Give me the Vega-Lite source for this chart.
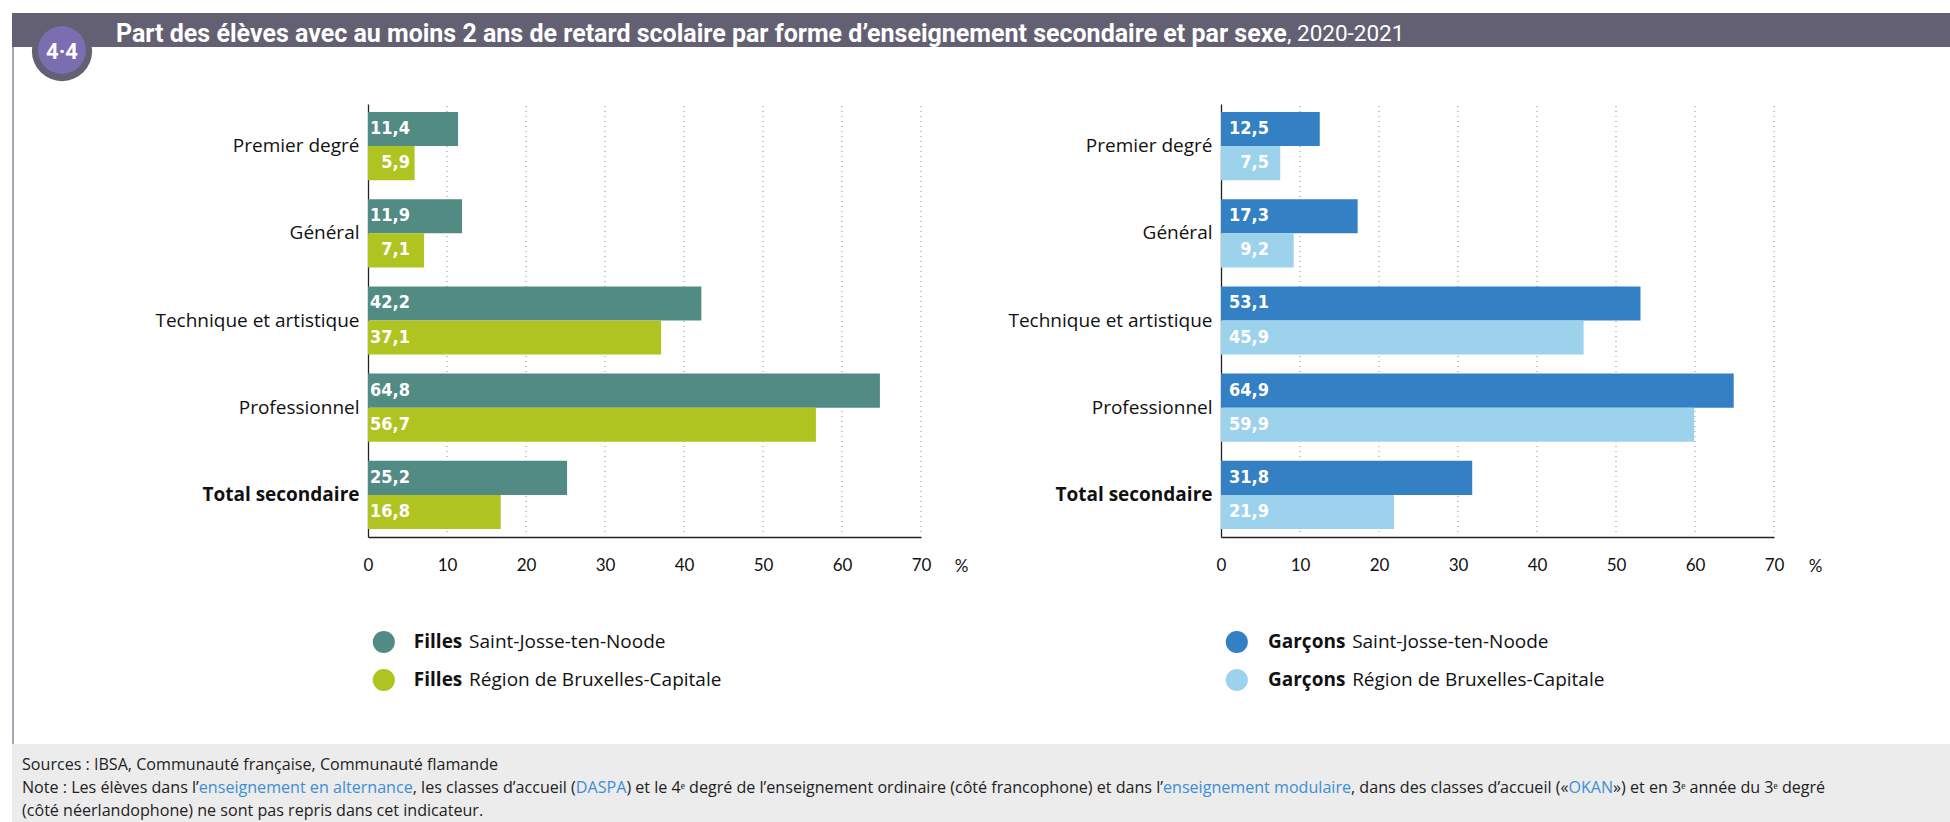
{
  "$schema": "https://vega.github.io/schema/vega-lite/v6.json",
  "width": 1950,
  "height": 822,
  "autosize": "none",
  "padding": 0,
  "background": "white",
  "config": {
    "view": {"stroke": null},
    "locale": {"number": {"decimal": ",", "thousands": " ", "grouping": [3], "currency": ["", " €"]}},
    "text": {"baseline": "middle"},
    "style": {
      "foot": {"font": "Open Sans", "fontSize": 16.1, "align": "left"}
    }
  },
  "datasets": {
    "eleves": [
      {"sexe": "Filles", "zone": "Saint-Josse-ten-Noode", "forme": "Premier degré", "valeur": 11.4},
      {"sexe": "Filles", "zone": "Saint-Josse-ten-Noode", "forme": "Général", "valeur": 11.9},
      {"sexe": "Filles", "zone": "Saint-Josse-ten-Noode", "forme": "Technique et artistique", "valeur": 42.2},
      {"sexe": "Filles", "zone": "Saint-Josse-ten-Noode", "forme": "Professionnel", "valeur": 64.8},
      {"sexe": "Filles", "zone": "Saint-Josse-ten-Noode", "forme": "Total secondaire", "valeur": 25.2},
      {"sexe": "Filles", "zone": "Région de Bruxelles-Capitale", "forme": "Premier degré", "valeur": 5.9},
      {"sexe": "Filles", "zone": "Région de Bruxelles-Capitale", "forme": "Général", "valeur": 7.1},
      {"sexe": "Filles", "zone": "Région de Bruxelles-Capitale", "forme": "Technique et artistique", "valeur": 37.1},
      {"sexe": "Filles", "zone": "Région de Bruxelles-Capitale", "forme": "Professionnel", "valeur": 56.7},
      {"sexe": "Filles", "zone": "Région de Bruxelles-Capitale", "forme": "Total secondaire", "valeur": 16.8},
      {"sexe": "Garçons", "zone": "Saint-Josse-ten-Noode", "forme": "Premier degré", "valeur": 12.5},
      {"sexe": "Garçons", "zone": "Saint-Josse-ten-Noode", "forme": "Général", "valeur": 17.3},
      {"sexe": "Garçons", "zone": "Saint-Josse-ten-Noode", "forme": "Technique et artistique", "valeur": 53.1},
      {"sexe": "Garçons", "zone": "Saint-Josse-ten-Noode", "forme": "Professionnel", "valeur": 64.9},
      {"sexe": "Garçons", "zone": "Saint-Josse-ten-Noode", "forme": "Total secondaire", "valeur": 31.8},
      {"sexe": "Garçons", "zone": "Région de Bruxelles-Capitale", "forme": "Premier degré", "valeur": 7.5},
      {"sexe": "Garçons", "zone": "Région de Bruxelles-Capitale", "forme": "Général", "valeur": 9.2},
      {"sexe": "Garçons", "zone": "Région de Bruxelles-Capitale", "forme": "Technique et artistique", "valeur": 45.9},
      {"sexe": "Garçons", "zone": "Région de Bruxelles-Capitale", "forme": "Professionnel", "valeur": 59.9},
      {"sexe": "Garçons", "zone": "Région de Bruxelles-Capitale", "forme": "Total secondaire", "valeur": 21.9}
    ],
    "ticks": [{"v": 10}, {"v": 20}, {"v": 30}, {"v": 40}, {"v": 50}, {"v": 60}, {"v": 70}]
  },
  "layer": [
    {"data": {"values": [{}]}, "mark": {"type": "rect", "color": "#636073"},
     "encoding": {"x": {"value": 12}, "x2": {"value": 1950}, "y": {"value": 13}, "y2": {"value": 47}}},
    {"data": {"values": [{}]}, "mark": {"type": "rule", "color": "#8e8a9c", "strokeWidth": 1.5},
     "encoding": {"x": {"value": 13}, "y": {"value": 47}, "y2": {"value": 744}}},
    {"data": {"values": [{}]}, "mark": {"type": "circle", "color": "#636073", "opacity": 1, "size": 3632},
     "encoding": {"x": {"value": 62}, "y": {"value": 51}}},
    {"data": {"values": [{}]}, "mark": {"type": "circle", "color": "#7a6db0", "opacity": 1, "size": 2290},
     "encoding": {"x": {"value": 62}, "y": {"value": 50}}},
    {"data": {"values": [{}]}, "mark": {"type": "text", "text": "4·4", "font": "Roboto", "fontWeight": "bold", "fontSize": 22, "color": "white", "align": "center"},
     "encoding": {"x": {"value": 62}, "y": {"value": 52}}},
    {"data": {"values": [{}]}, "mark": {"type": "text", "text": "Part des élèves avec au moins 2 ans de retard scolaire par forme d’enseignement secondaire et par sexe", "font": "Roboto", "fontWeight": "bold", "fontSize": 25, "color": "white", "align": "left"},
     "encoding": {"x": {"value": 116}, "y": {"value": 34}}},
    {"data": {"values": [{}]}, "mark": {"type": "text", "text": ", 2020-2021", "font": "Roboto", "fontWeight": "normal", "fontSize": 22.5, "color": "white", "align": "left"},
     "encoding": {"x": {"value": 1287}, "y": {"value": 34}}},

    {"data": {"values": [{}]}, "mark": {"type": "rect", "color": "#ececec"},
     "encoding": {"x": {"value": 12}, "x2": {"value": 1950}, "y": {"value": 744}, "y2": {"value": 822}}},
    {"data": {"values": [{}]}, "mark": {"type": "text", "style": "foot", "color": "#222222", "text": "Sources : IBSA, Communauté française, Communauté flamande"},
     "encoding": {"x": {"value": 22}, "y": {"value": 765}}},
    {"data": {"values": [{}]}, "mark": {"type": "text", "style": "foot", "color": "#222222", "text": "Note : Les élèves dans l’enseignement en alternance, les classes d’accueil (DASPA) et le 4ᵉ degré de l’enseignement ordinaire (côté francophone) et dans l’enseignement modulaire, dans des classes d’accueil («OKAN») et en 3ᵉ année du 3ᵉ degré"},
     "encoding": {"x": {"value": 22}, "y": {"value": 788}}},
    {"data": {"values": [{}]}, "mark": {"type": "text", "style": "foot", "color": "#ececec", "stroke": "#ececec", "strokeWidth": 1.6, "strokeJoin": "round", "text": "Note : Les élèves dans l’enseignement en alternance, les classes d’accueil (DASPA) et le 4ᵉ degré de l’enseignement ordinaire (côté francophone) et dans l’enseignement modulaire, dans des classes d’accueil («OKAN"},
     "encoding": {"x": {"value": 22}, "y": {"value": 788}}},
    {"data": {"values": [{}]}, "mark": {"type": "text", "style": "foot", "color": "#3d8fd6", "text": "Note : Les élèves dans l’enseignement en alternance, les classes d’accueil (DASPA) et le 4ᵉ degré de l’enseignement ordinaire (côté francophone) et dans l’enseignement modulaire, dans des classes d’accueil («OKAN"},
     "encoding": {"x": {"value": 22}, "y": {"value": 788}}},
    {"data": {"values": [{}]}, "mark": {"type": "text", "style": "foot", "color": "#ececec", "stroke": "#ececec", "strokeWidth": 1.6, "strokeJoin": "round", "text": "Note : Les élèves dans l’enseignement en alternance, les classes d’accueil (DASPA) et le 4ᵉ degré de l’enseignement ordinaire (côté francophone) et dans l’enseignement modulaire, dans des classes d’accueil («"},
     "encoding": {"x": {"value": 22}, "y": {"value": 788}}},
    {"data": {"values": [{}]}, "mark": {"type": "text", "style": "foot", "color": "#222222", "text": "Note : Les élèves dans l’enseignement en alternance, les classes d’accueil (DASPA) et le 4ᵉ degré de l’enseignement ordinaire (côté francophone) et dans l’enseignement modulaire, dans des classes d’accueil («"},
     "encoding": {"x": {"value": 22}, "y": {"value": 788}}},
    {"data": {"values": [{}]}, "mark": {"type": "text", "style": "foot", "color": "#ececec", "stroke": "#ececec", "strokeWidth": 1.6, "strokeJoin": "round", "text": "Note : Les élèves dans l’enseignement en alternance, les classes d’accueil (DASPA) et le 4ᵉ degré de l’enseignement ordinaire (côté francophone) et dans l’enseignement modulaire"},
     "encoding": {"x": {"value": 22}, "y": {"value": 788}}},
    {"data": {"values": [{}]}, "mark": {"type": "text", "style": "foot", "color": "#3d8fd6", "text": "Note : Les élèves dans l’enseignement en alternance, les classes d’accueil (DASPA) et le 4ᵉ degré de l’enseignement ordinaire (côté francophone) et dans l’enseignement modulaire"},
     "encoding": {"x": {"value": 22}, "y": {"value": 788}}},
    {"data": {"values": [{}]}, "mark": {"type": "text", "style": "foot", "color": "#ececec", "stroke": "#ececec", "strokeWidth": 1.6, "strokeJoin": "round", "text": "Note : Les élèves dans l’enseignement en alternance, les classes d’accueil (DASPA) et le 4ᵉ degré de l’enseignement ordinaire (côté francophone) et dans l’"},
     "encoding": {"x": {"value": 22}, "y": {"value": 788}}},
    {"data": {"values": [{}]}, "mark": {"type": "text", "style": "foot", "color": "#222222", "text": "Note : Les élèves dans l’enseignement en alternance, les classes d’accueil (DASPA) et le 4ᵉ degré de l’enseignement ordinaire (côté francophone) et dans l’"},
     "encoding": {"x": {"value": 22}, "y": {"value": 788}}},
    {"data": {"values": [{}]}, "mark": {"type": "text", "style": "foot", "color": "#ececec", "stroke": "#ececec", "strokeWidth": 1.6, "strokeJoin": "round", "text": "Note : Les élèves dans l’enseignement en alternance, les classes d’accueil (DASPA"},
     "encoding": {"x": {"value": 22}, "y": {"value": 788}}},
    {"data": {"values": [{}]}, "mark": {"type": "text", "style": "foot", "color": "#3d8fd6", "text": "Note : Les élèves dans l’enseignement en alternance, les classes d’accueil (DASPA"},
     "encoding": {"x": {"value": 22}, "y": {"value": 788}}},
    {"data": {"values": [{}]}, "mark": {"type": "text", "style": "foot", "color": "#ececec", "stroke": "#ececec", "strokeWidth": 1.6, "strokeJoin": "round", "text": "Note : Les élèves dans l’enseignement en alternance, les classes d’accueil ("},
     "encoding": {"x": {"value": 22}, "y": {"value": 788}}},
    {"data": {"values": [{}]}, "mark": {"type": "text", "style": "foot", "color": "#222222", "text": "Note : Les élèves dans l’enseignement en alternance, les classes d’accueil ("},
     "encoding": {"x": {"value": 22}, "y": {"value": 788}}},
    {"data": {"values": [{}]}, "mark": {"type": "text", "style": "foot", "color": "#ececec", "stroke": "#ececec", "strokeWidth": 1.6, "strokeJoin": "round", "text": "Note : Les élèves dans l’enseignement en alternance"},
     "encoding": {"x": {"value": 22}, "y": {"value": 788}}},
    {"data": {"values": [{}]}, "mark": {"type": "text", "style": "foot", "color": "#3d8fd6", "text": "Note : Les élèves dans l’enseignement en alternance"},
     "encoding": {"x": {"value": 22}, "y": {"value": 788}}},
    {"data": {"values": [{}]}, "mark": {"type": "text", "style": "foot", "color": "#ececec", "stroke": "#ececec", "strokeWidth": 1.6, "strokeJoin": "round", "text": "Note : Les élèves dans l’"},
     "encoding": {"x": {"value": 22}, "y": {"value": 788}}},
    {"data": {"values": [{}]}, "mark": {"type": "text", "style": "foot", "color": "#222222", "text": "Note : Les élèves dans l’"},
     "encoding": {"x": {"value": 22}, "y": {"value": 788}}},
    {"data": {"values": [{}]}, "mark": {"type": "text", "style": "foot", "color": "#222222", "text": "(côté néerlandophone) ne sont pas repris dans cet indicateur."},
     "encoding": {"x": {"value": 22}, "y": {"value": 811}}},

    {
      "data": {"name": "eleves"},
      "transform": [{"filter": "datum.sexe === 'Filles'"}],
      "layer": [
        {
          "data": {"name": "ticks"},
          "mark": {"type": "rule", "color": "#8a8a8a", "strokeWidth": 1, "strokeDash": [1, 4]},
          "encoding": {
            "x": {"field": "v", "type": "quantitative"},
            "y": {"datum": 0, "type": "quantitative", "scale": {"domain": [0, 1], "range": [106, 536]}, "axis": null},
            "y2": {"datum": 1}
          }
        },
        {
          "layer": [
            {
              "mark": {"type": "bar"},
              "encoding": {
                "y": {"field": "forme", "type": "nominal",
                      "sort": ["Premier degré", "Général", "Technique et artistique", "Professionnel", "Total secondaire"],
                      "scale": {"range": [104, 537], "paddingInner": 0.218, "paddingOuter": 0.092},
                      "axis": {"orient": "left", "offset": -368, "title": null, "ticks": false, "domainColor": "#222222", "domainWidth": 1.3,
                               "labelPadding": 9, "labelFont": "Open Sans", "labelFontSize": 19, "labelColor": "#111111", "labelLimit": 400,
                               "labelFontWeight": {"condition": {"test": "datum.value === 'Total secondaire'", "value": "bold"}, "value": "normal"}}},
                "yOffset": {"field": "zone", "type": "nominal", "sort": ["Saint-Josse-ten-Noode", "Région de Bruxelles-Capitale"], "scale": {"paddingInner": 0, "paddingOuter": 0}},
                "x": {"field": "valeur", "type": "quantitative",
                      "scale": {"domain": [0, 70], "range": [368, 921], "nice": false},
                      "axis": {"orient": "bottom", "offset": -285, "values": [0, 10, 20, 30, 40, 50, 60, 70], "grid": false,
                               "domainColor": "#222222", "domainWidth": 1.3, "ticks": false, "labelPadding": 20, "labelFlush": false, "labelOverlap": false,
                               "labelFont": "Lato", "labelFontSize": 17, "labelColor": "#111111",
                               "title": "%", "titleX": 961, "titleY": 29, "titleFont": "Lato", "titleFontSize": 17, "titleFontWeight": "normal", "titleColor": "#111111", "titleBaseline": "middle", "titleAlign": "center", "titleAngle": 0}},
                "color": {"field": "zone", "type": "nominal", "scale": {"domain": ["Saint-Josse-ten-Noode", "Région de Bruxelles-Capitale"], "range": ["#528b83", "#afc421"]}, "legend": null}
              }
            },
            {
              "mark": {"type": "text", "align": "right", "dx": 42, "font": "Liberation Sans Narrow, DejaVu Sans Condensed, sans-serif", "fontWeight": "bold", "fontSize": 18, "color": "white"},
              "encoding": {
                "y": {"field": "forme", "type": "nominal", "sort": ["Premier degré", "Général", "Technique et artistique", "Professionnel", "Total secondaire"]},
                "yOffset": {"field": "zone", "type": "nominal", "sort": ["Saint-Josse-ten-Noode", "Région de Bruxelles-Capitale"]},
                "x": {"datum": 0},
                "text": {"field": "valeur", "type": "quantitative", "format": ".1f"}
              }
            }
          ]
        },
        {
          "transform": [{"filter": "datum.forme === 'Premier degré'"}],
          "layer": [
            {"mark": {"type": "circle", "size": 490, "opacity": 1},
             "encoding": {"x": {"datum": 2},
                          "y": {"field": "zone", "type": "nominal", "sort": ["Saint-Josse-ten-Noode", "Région de Bruxelles-Capitale"], "scale": {"type": "point", "range": [642, 680], "padding": 0}, "axis": null},
                          "color": {"field": "zone", "type": "nominal"}}},
            {"mark": {"type": "text", "align": "left", "font": "Open Sans", "fontWeight": "bold", "fontSize": 19, "color": "#111111"},
             "encoding": {"x": {"datum": 5.8},
                          "y": {"field": "zone", "type": "nominal", "sort": ["Saint-Josse-ten-Noode", "Région de Bruxelles-Capitale"]},
                          "text": {"field": "sexe"}}},
            {"mark": {"type": "text", "align": "left", "font": "Open Sans", "fontSize": 19, "color": "#111111"},
             "encoding": {"x": {"datum": 12.8},
                          "y": {"field": "zone", "type": "nominal", "sort": ["Saint-Josse-ten-Noode", "Région de Bruxelles-Capitale"]},
                          "text": {"field": "zone"}}}
          ]
        }
      ],
      "resolve": {"scale": {"y": "independent"}}
    },

    {
      "data": {"name": "eleves"},
      "transform": [{"filter": "datum.sexe === 'Garçons'"}],
      "layer": [
        {
          "data": {"name": "ticks"},
          "mark": {"type": "rule", "color": "#8a8a8a", "strokeWidth": 1, "strokeDash": [1, 4]},
          "encoding": {
            "x": {"field": "v", "type": "quantitative"},
            "y": {"datum": 0, "type": "quantitative", "scale": {"domain": [0, 1], "range": [106, 536]}, "axis": null},
            "y2": {"datum": 1}
          }
        },
        {
          "layer": [
            {
              "mark": {"type": "bar"},
              "encoding": {
                "y": {"field": "forme", "type": "nominal",
                      "sort": ["Premier degré", "Général", "Technique et artistique", "Professionnel", "Total secondaire"],
                      "scale": {"range": [104, 537], "paddingInner": 0.218, "paddingOuter": 0.092},
                      "axis": {"orient": "left", "offset": -1221, "title": null, "ticks": false, "domainColor": "#222222", "domainWidth": 1.3,
                               "labelPadding": 9, "labelFont": "Open Sans", "labelFontSize": 19, "labelColor": "#111111", "labelLimit": 400,
                               "labelFontWeight": {"condition": {"test": "datum.value === 'Total secondaire'", "value": "bold"}, "value": "normal"}}},
                "yOffset": {"field": "zone", "type": "nominal", "sort": ["Saint-Josse-ten-Noode", "Région de Bruxelles-Capitale"], "scale": {"paddingInner": 0, "paddingOuter": 0}},
                "x": {"field": "valeur", "type": "quantitative",
                      "scale": {"domain": [0, 70], "range": [1221, 1774], "nice": false},
                      "axis": {"orient": "bottom", "offset": -285, "values": [0, 10, 20, 30, 40, 50, 60, 70], "grid": false,
                               "domainColor": "#222222", "domainWidth": 1.3, "ticks": false, "labelPadding": 20, "labelFlush": false, "labelOverlap": false,
                               "labelFont": "Lato", "labelFontSize": 17, "labelColor": "#111111",
                               "title": "%", "titleX": 1815, "titleY": 29, "titleFont": "Lato", "titleFontSize": 17, "titleFontWeight": "normal", "titleColor": "#111111", "titleBaseline": "middle", "titleAlign": "center", "titleAngle": 0}},
                "color": {"field": "zone", "type": "nominal", "scale": {"domain": ["Saint-Josse-ten-Noode", "Région de Bruxelles-Capitale"], "range": ["#3380c4", "#9dd2ec"]}, "legend": null}
              }
            },
            {
              "mark": {"type": "text", "align": "right", "dx": 48, "font": "Liberation Sans Narrow, DejaVu Sans Condensed, sans-serif", "fontWeight": "bold", "fontSize": 18, "color": "white"},
              "encoding": {
                "y": {"field": "forme", "type": "nominal", "sort": ["Premier degré", "Général", "Technique et artistique", "Professionnel", "Total secondaire"]},
                "yOffset": {"field": "zone", "type": "nominal", "sort": ["Saint-Josse-ten-Noode", "Région de Bruxelles-Capitale"]},
                "x": {"datum": 0},
                "text": {"field": "valeur", "type": "quantitative", "format": ".1f"}
              }
            }
          ]
        },
        {
          "transform": [{"filter": "datum.forme === 'Premier degré'"}],
          "layer": [
            {"mark": {"type": "circle", "size": 490, "opacity": 1},
             "encoding": {"x": {"datum": 2},
                          "y": {"field": "zone", "type": "nominal", "sort": ["Saint-Josse-ten-Noode", "Région de Bruxelles-Capitale"], "scale": {"type": "point", "range": [642, 680], "padding": 0}, "axis": null},
                          "color": {"field": "zone", "type": "nominal"}}},
            {"mark": {"type": "text", "align": "left", "font": "Open Sans", "fontWeight": "bold", "fontSize": 19, "color": "#111111"},
             "encoding": {"x": {"datum": 5.95},
                          "y": {"field": "zone", "type": "nominal", "sort": ["Saint-Josse-ten-Noode", "Région de Bruxelles-Capitale"]},
                          "text": {"field": "sexe"}}},
            {"mark": {"type": "text", "align": "left", "font": "Open Sans", "fontSize": 19, "color": "#111111"},
             "encoding": {"x": {"datum": 16.6},
                          "y": {"field": "zone", "type": "nominal", "sort": ["Saint-Josse-ten-Noode", "Région de Bruxelles-Capitale"]},
                          "text": {"field": "zone"}}}
          ]
        }
      ],
      "resolve": {"scale": {"y": "independent"}}
    }
  ],
  "resolve": {"scale": {"x": "independent", "y": "independent", "color": "independent", "yOffset": "independent"}}
}
